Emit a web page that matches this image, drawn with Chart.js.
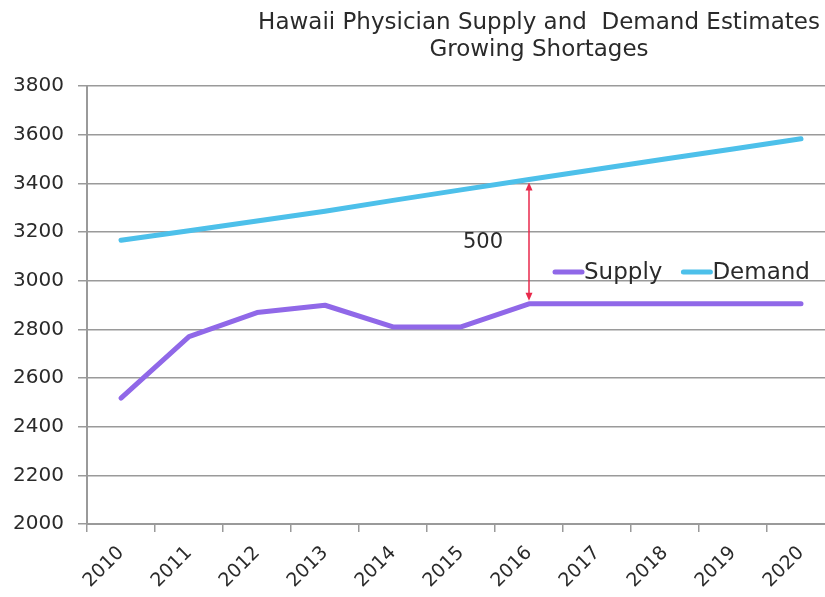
<!DOCTYPE html>
<html>
<head>
<meta charset="utf-8">
<script src="https://cdn.jsdelivr.net/npm/chart.js@4"></script>
<style>
  html, body { margin: 0; padding: 0; background: #fff; overflow: hidden; }
  #wrap { width: 845px; height: 597px; }
</style>
</head>
<body>
<div id="wrap"><canvas id="physChart" width="845" height="597"></canvas></div>
<script>
// data
const years = ['2010', '2011', '2012', '2013', '2014', '2015', '2016', '2017', '2018', '2019', '2020'];
const supply = [2517, 2770, 2869, 2899, 2810, 2810, 2905, 2905, 2905, 2905, 2905];
const demand = [3166, 3205, 3245, 3285, 3330, 3373, 3416, 3458, 3500, 3541, 3583];
const yMin = 2000, yMax = 3800, yStep = 200;
const titleLines = ['Hawaii Physician Supply and  Demand Estimates', 'Growing Shortages'];
const gapYear = '2016';
const gapLabel = '500';

const FONT = '"DejaVu Sans", sans-serif';
const SUPPLY_COLOR = '#9068e8';
const DEMAND_COLOR = '#4dc0ea';
const GRID = '#9a9a9a';

// title, legend and the shortage arrow
const extras = {
  id: 'extras',
  afterDraw(chart) {
    const ctx = chart.ctx;
    const x = chart.scales.x, y = chart.scales.y;
    ctx.save();

    // title
    ctx.fillStyle = '#2a2a2a';
    ctx.font = '23px ' + FONT;
    ctx.textAlign = 'center';
    ctx.textBaseline = 'middle';
    ctx.fillText(titleLines[0], 539, 23);
    ctx.fillText(titleLines[1], 539, 50);

    // gap arrow between demand and supply
    const i = years.indexOf(gapYear);
    const ax = x.getPixelForValue(i);
    const top = y.getPixelForValue(demand[i]) + 3;
    const bot = y.getPixelForValue(supply[i]) - 3;
    ctx.strokeStyle = '#e8294b';
    ctx.fillStyle = '#e8294b';
    ctx.lineWidth = 1.5;
    ctx.beginPath();
    ctx.moveTo(ax, top + 4);
    ctx.lineTo(ax, bot - 4);
    ctx.stroke();
    [[top, 1], [bot, -1]].forEach(([py, d]) => {
      ctx.beginPath();
      ctx.moveTo(ax, py);
      ctx.lineTo(ax - 3.5, py + 8 * d);
      ctx.lineTo(ax + 3.5, py + 8 * d);
      ctx.closePath();
      ctx.fill();
    });
    ctx.fillStyle = '#2a2a2a';
    ctx.font = '21px ' + FONT;
    ctx.fillText(gapLabel, 483, 243);

    // legend inside the plot
    ctx.textAlign = 'left';
    ctx.font = '23px ' + FONT;
    ctx.lineCap = 'round';
    ctx.lineWidth = 5;
    let lx = 555;
    const ly = 272;
    chart.data.datasets.forEach(ds => {
      ctx.strokeStyle = ds.borderColor;
      ctx.beginPath();
      ctx.moveTo(lx, ly);
      ctx.lineTo(lx + 27, ly);
      ctx.stroke();
      ctx.fillStyle = '#2a2a2a';
      ctx.fillText(ds.label, lx + 29, ly + 1);
      lx += 29 + ctx.measureText(ds.label).width + 21;
    });
    ctx.restore();
  }
};

new Chart(document.getElementById('physChart'), {
  type: 'line',
  data: {
    labels: years,
    datasets: [
      {
        label: 'Supply',
        data: supply,
        borderColor: SUPPLY_COLOR,
        borderWidth: 5,
        borderCapStyle: 'round',
        borderJoinStyle: 'round',
        pointRadius: 0,
        tension: 0
      },
      {
        label: 'Demand',
        data: demand,
        borderColor: DEMAND_COLOR,
        borderWidth: 5,
        borderCapStyle: 'round',
        borderJoinStyle: 'round',
        pointRadius: 0,
        tension: 0
      }
    ]
  },
  options: {
    responsive: false,
    animation: false,
    layout: { padding: { top: 86, right: 10, left: 0, bottom: 0 } },
    plugins: {
      legend: { display: false },
      title: { display: false },
      tooltip: { enabled: false }
    },
    scales: {
      x: {
        offset: true,
        afterFit: s => { s.height = 73; },
        grid: {
          offset: true,
          drawOnChartArea: false,
          drawTicks: true,
          tickLength: 8,
          color: GRID,
          lineWidth: 1.5
        },
        border: { color: GRID, width: 2 },
        ticks: {
          color: '#2a2a2a',
          font: { family: FONT, size: 19 },
          minRotation: 45,
          maxRotation: 45,
          padding: 10,
          autoSkip: false
        }
      },
      y: {
        min: yMin,
        max: yMax,
        afterFit: s => { s.width = 87; },
        grid: {
          color: GRID,
          lineWidth: 1.5,
          tickLength: 9
        },
        border: { color: GRID, width: 2 },
        ticks: {
          stepSize: yStep,
          color: '#2a2a2a',
          font: { family: FONT, size: 20 },
          padding: 14,
          callback: v => String(v)
        }
      }
    }
  },
  plugins: [extras]
});
</script>
</body>
</html>
